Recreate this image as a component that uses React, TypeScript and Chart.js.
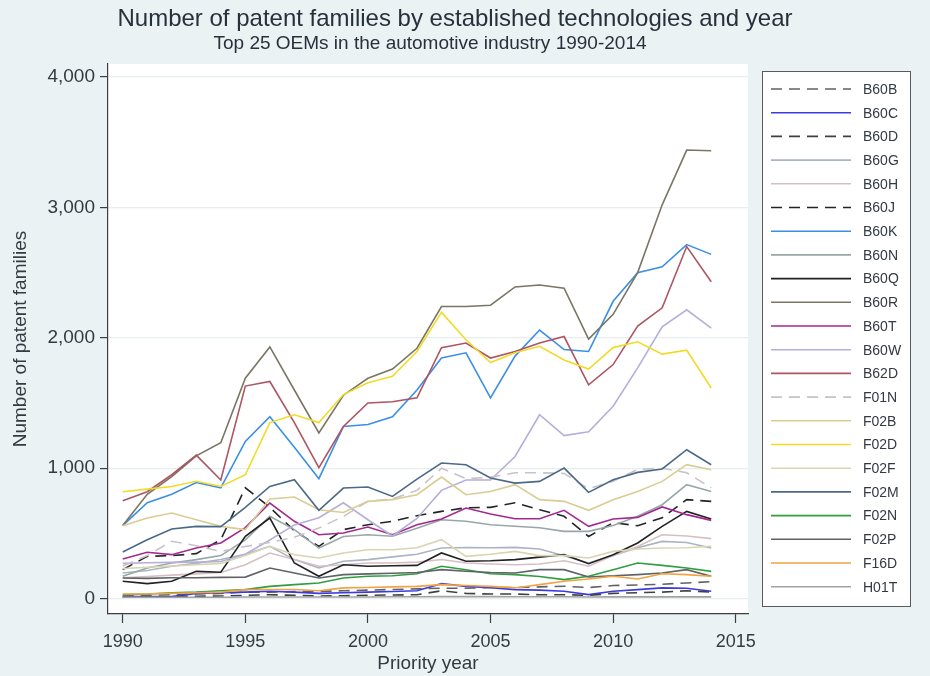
import React, { useEffect, useRef } from "react";
import { Chart, registerables } from "chart.js";

Chart.register(...registerables);

const FONT = "'Liberation Sans', Arial, sans-serif";
const TEXT = "#333a42";

const years = [
  1990, 1991, 1992, 1993, 1994, 1995, 1996, 1997, 1998, 1999, 2000, 2001, 2002,
  2003, 2004, 2005, 2006, 2007, 2008, 2009, 2010, 2011, 2012, 2013, 2014,
];

const yTicks = [0, 1000, 2000, 3000, 4000];
const xTicks = [1990, 1995, 2000, 2005, 2010, 2015];

const B60B = [20, 25, 30, 35, 40, 50, 50, 55, 55, 60, 65, 70, 75, 80, 80, 85, 85, 90, 95, 85, 100, 105, 110, 120, 130];
const B60C = [15, 15, 15, 40, 45, 50, 56, 50, 40, 45, 50, 55, 60, 115, 94, 84, 69, 65, 56, 31, 56, 69, 82, 80, 56];
const B60D = [10, 12, 15, 18, 20, 25, 30, 25, 20, 22, 25, 28, 30, 60, 40, 35, 35, 30, 30, 25, 40, 45, 50, 60, 50];
const B60G = [197, 215, 248, 270, 300, 340, 401, 299, 235, 286, 299, 320, 340, 388, 392, 390, 393, 380, 329, 273, 330, 390, 439, 430, 388];
const B60H = [160, 170, 180, 190, 200, 260, 350, 300, 248, 260, 273, 273, 280, 300, 273, 265, 260, 265, 290, 248, 330, 400, 490, 480, 460];
const B60J = [222, 324, 330, 345, 452, 850, 700, 520, 401, 529, 567, 593, 636, 669, 697, 700, 735, 682, 631, 477, 582, 559, 620, 759, 746];
const B60K = [560, 735, 800, 890, 850, 1205, 1395, 1160, 920, 1320, 1335, 1395, 1600, 1845, 1885, 1540, 1860, 2060, 1910, 1895, 2280, 2500, 2545, 2715, 2640];
const B60N = [171, 235, 273, 299, 330, 450, 631, 529, 388, 477, 490, 478, 540, 605, 593, 567, 555, 544, 516, 516, 560, 631, 720, 874, 822];
const B60Q = [133, 115, 133, 209, 202, 477, 618, 273, 171, 260, 248, 252, 255, 350, 286, 290, 299, 318, 337, 268, 337, 427, 554, 669, 611];
const B60R = [560, 800, 935, 1095, 1195, 1690, 1930, 1600, 1270, 1560, 1690, 1760, 1920, 2240, 2240, 2250, 2390, 2405, 2380, 1990, 2180, 2500, 3020, 3440, 3435];
const B60T = [304, 355, 337, 388, 427, 544, 733, 593, 490, 503, 549, 490, 567, 610, 695, 649, 613, 613, 677, 554, 611, 623, 703, 644, 600];
const B60W = [270, 275, 278, 280, 285, 340, 450, 565, 620, 735, 605, 480, 615, 830, 910, 910, 1090, 1410, 1250, 1280, 1475, 1770, 2085, 2215, 2075];
const B62D = [750, 820, 950, 1100, 910, 1630, 1665, 1350, 1005, 1320, 1500, 1510, 1540, 1925, 1960, 1845, 1895, 1960, 2010, 1640, 1795, 2090, 2230, 2700, 2430];
const F01N = [250, 330, 440, 406, 362, 400, 430, 470, 541, 631, 746, 765, 830, 1000, 920, 930, 965, 965, 960, 843, 900, 990, 1000, 965, 850];
const F02B = [559, 618, 656, 605, 554, 529, 764, 779, 682, 661, 746, 759, 797, 932, 797, 822, 874, 759, 746, 677, 759, 822, 899, 1027, 988];
const F02D = [820, 840, 860, 900, 860, 950, 1350, 1410, 1350, 1565, 1655, 1705, 1895, 2195, 1985, 1810, 1885, 1935, 1830, 1760, 1925, 1970, 1875, 1905, 1615];
const F02F = [230, 240, 250, 260, 270, 330, 401, 337, 312, 350, 375, 375, 390, 452, 324, 340, 362, 330, 330, 312, 362, 380, 388, 390, 401];
const F02M = [358, 452, 534, 554, 552, 700, 860, 912, 677, 848, 856, 784, 917, 1040, 1027, 925, 886, 899, 1001, 815, 912, 968, 994, 1142, 1027];
const F02N = [30, 35, 45, 50, 60, 69, 94, 107, 120, 158, 171, 175, 191, 248, 222, 191, 184, 170, 146, 171, 222, 273, 255, 235, 209];
const F02P = [158, 155, 160, 160, 163, 165, 235, 197, 158, 184, 190, 195, 200, 222, 210, 200, 197, 222, 222, 166, 175, 184, 197, 222, 171];
const F16D = [35, 35, 40, 45, 50, 69, 70, 70, 60, 82, 85, 90, 94, 107, 100, 94, 82, 107, 133, 151, 171, 151, 191, 184, 171];
const H01T = [10, 10, 10, 10, 10, 12, 12, 12, 12, 12, 12, 14, 14, 15, 15, 15, 14, 14, 14, 12, 13, 13, 13, 13, 13];

const DASH = [11, 7];

type Series = { label: string; values: number[]; color: string; dash?: number[] };

const series: Series[] = [
  { label: "B60B", values: B60B, color: "#5f6266", dash: DASH },
  { label: "B60C", values: B60C, color: "#3b3be0" },
  { label: "B60D", values: B60D, color: "#3e4042", dash: DASH },
  { label: "B60G", values: B60G, color: "#a9b5c2" },
  { label: "B60H", values: B60H, color: "#d6bfc3" },
  { label: "B60J", values: B60J, color: "#222426", dash: DASH },
  { label: "B60K", values: B60K, color: "#3b8fe6" },
  { label: "B60N", values: B60N, color: "#98a8a8" },
  { label: "B60Q", values: B60Q, color: "#222222" },
  { label: "B60R", values: B60R, color: "#7a7564" },
  { label: "B60T", values: B60T, color: "#a3298f" },
  { label: "B60W", values: B60W, color: "#b5afd9" },
  { label: "B62D", values: B62D, color: "#ad5562" },
  { label: "F01N", values: F01N, color: "#c9c1c9", dash: DASH },
  { label: "F02B", values: F02B, color: "#d9cd92" },
  { label: "F02D", values: F02D, color: "#f1db2a" },
  { label: "F02F", values: F02F, color: "#d9d5b1" },
  { label: "F02M", values: F02M, color: "#4b6a87" },
  { label: "F02N", values: F02N, color: "#2f9e3f" },
  { label: "F02P", values: F02P, color: "#5f6367" },
  { label: "F16D", values: F16D, color: "#f2a341" },
  { label: "H01T", values: H01T, color: "#a2a2a2" },
];

// Light bluish-grey graph region with a white plot region
const backdrop = {
  id: "backdrop",
  beforeDraw(chart: any) {
    const { ctx, chartArea } = chart;
    ctx.save();
    ctx.fillStyle = "#eaf2f3";
    ctx.fillRect(0, 0, chart.width, chart.height);
    ctx.fillStyle = "#ffffff";
    ctx.fillRect(chartArea.left, chartArea.top, chartArea.right - chartArea.left, chartArea.bottom - chartArea.top);
    ctx.restore();
  },
};

// Title and subtitle
const headings = {
  id: "headings",
  afterDraw(chart: any) {
    const ctx = chart.ctx;
    ctx.save();
    ctx.fillStyle = "#27313c";
    ctx.textAlign = "center";
    ctx.textBaseline = "middle";
    ctx.font = `24px ${FONT}`;
    ctx.fillText("Number of patent families by established technologies and year", 455, 19);
    ctx.font = `19px ${FONT}`;
    ctx.fillText("Top 25 OEMs in the automotive industry 1990-2014", 430, 44);
    ctx.restore();
  },
};

// Boxed legend on the right, one row per series
const legendBox = {
  id: "legendBox",
  afterDraw(chart: any) {
    const ctx = chart.ctx;
    const x0 = 762;
    const y0 = 71;
    const w = 148;
    const h = 535;
    ctx.save();
    ctx.fillStyle = "#ffffff";
    ctx.fillRect(x0, y0, w, h);
    ctx.strokeStyle = "#555a5e";
    ctx.lineWidth = 1;
    ctx.strokeRect(x0 + 0.5, y0 + 0.5, w, h);
    chart.data.datasets.forEach((ds: any, i: number) => {
      const y = 89 + i * 23.7;
      ctx.strokeStyle = ds.borderColor;
      ctx.lineWidth = ds.borderWidth;
      ctx.setLineDash(ds.borderDash || []);
      ctx.beginPath();
      ctx.moveTo(771, y);
      ctx.lineTo(851, y);
      ctx.stroke();
      ctx.setLineDash([]);
      ctx.fillStyle = TEXT;
      ctx.font = `14px ${FONT}`;
      ctx.textAlign = "left";
      ctx.textBaseline = "middle";
      ctx.fillText(ds.label, 863, y + 1);
    });
    ctx.restore();
  },
};

export default function App() {
  const canvasRef = useRef<HTMLCanvasElement | null>(null);

  useEffect(() => {
    if (!canvasRef.current) return;
    const datasets = series.map((s, i) => ({
      label: s.label,
      data: s.values.map((v, k) => ({ x: years[k], y: v })),
      borderColor: s.color,
      backgroundColor: s.color,
      borderWidth: 1.6,
      borderDash: s.dash || [],
      pointRadius: 0,
      tension: 0,
      fill: false,
      order: series.length - i,
    }));

    const chart = new Chart(canvasRef.current, {
      type: "line",
      data: { datasets },
      plugins: [backdrop, headings, legendBox],
      options: {
        animation: false,
        responsive: false,
        maintainAspectRatio: false,
        layout: { padding: { top: 64, right: 182, bottom: 0, left: 0 } },
        plugins: {
          legend: { display: false },
          tooltip: { enabled: false },
          title: { display: false },
        },
        scales: {
          x: {
            type: "linear",
            min: 1989.4,
            max: 2015.5,
            afterBuildTicks: (scale: any) => {
              scale.ticks = xTicks.map((v) => ({ value: v }));
            },
            afterFit: (scale: any) => {
              scale.height = 62;
            },
            ticks: {
              color: TEXT,
              font: { family: FONT, size: 18 },
              padding: 8,
              maxRotation: 0,
              callback: (v: any) => String(v),
            },
            grid: {
              drawOnChartArea: false,
              drawTicks: true,
              tickLength: 9,
              tickColor: "#3a3f44",
              tickWidth: 1.2,
            },
            border: { display: true, color: "#3a3f44", width: 1.2 },
            title: {
              display: true,
              text: "Priority year",
              color: TEXT,
              font: { family: FONT, size: 19 },
              padding: { top: 0, bottom: 1 },
            },
          },
          y: {
            type: "linear",
            min: -118,
            max: 4100,
            afterBuildTicks: (scale: any) => {
              scale.ticks = yTicks.map((v) => ({ value: v }));
            },
            afterFit: (scale: any) => {
              scale.width = 108;
            },
            ticks: {
              color: TEXT,
              font: { family: FONT, size: 19 },
              padding: 5,
              callback: (v: any) => Number(v).toLocaleString("en-US"),
            },
            grid: {
              color: "#e6eef0",
              lineWidth: 1.2,
              drawTicks: true,
              tickLength: 8,
              tickColor: "#3a3f44",
              tickWidth: 1.2,
            },
            border: { display: true, color: "#3a3f44", width: 1.2 },
            title: {
              display: true,
              text: "Number of patent families",
              color: TEXT,
              font: { family: FONT, size: 19 },
              padding: { top: 9, bottom: 0 },
            },
          },
        },
      },
    });
    return () => chart.destroy();
  }, []);

  return (
    <div style={{ position: "absolute", left: 0, top: 0, width: 930, height: 676, background: "#eaf2f3" }}>
      <canvas ref={canvasRef} width={930} height={676} style={{ display: "block", width: 930, height: 676 }} />
    </div>
  );
}
